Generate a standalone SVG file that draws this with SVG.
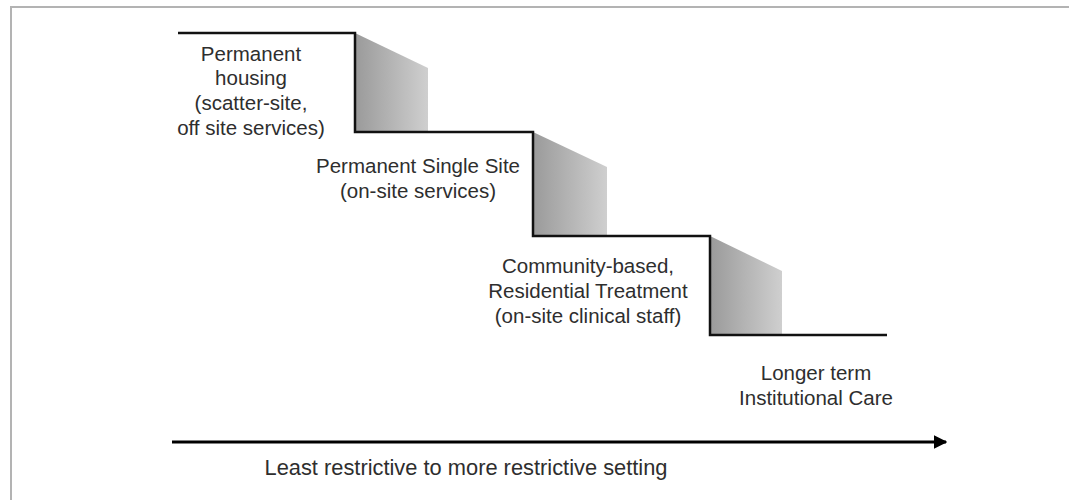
<svg xmlns="http://www.w3.org/2000/svg" width="1069" height="500" viewBox="0 0 1069 500">
  <defs>
    <linearGradient id="shade" x1="0" y1="0" x2="1" y2="0">
      <stop offset="0" stop-color="#9a9a9a"/>
      <stop offset="1" stop-color="#cfcfcf"/>
    </linearGradient>
    <marker id="arrow" viewBox="0 0 10 10" refX="9" refY="5" markerWidth="4.5" markerHeight="4.5" orient="auto" markerUnits="strokeWidth">
      <path d="M0,0 L10,5 L0,10 z" fill="#000"/>
    </marker>
  </defs>
  <style>
    .lbl { font-family: "Liberation Sans", Arial, sans-serif; font-size: 20.5px; fill: #2e2e2e; text-anchor: middle; }
    .axis { font-size: 21.5px; }
    .step { fill: none; stroke: #111; stroke-width: 2.5; }
    .shade { fill: url(#shade); stroke: none; }
  </style>
  <rect x="0" y="0" width="1069" height="500" fill="#fff"/>
  <path d="M11,500 L11,7 L1069,7" fill="none" stroke="#b3b3b3" stroke-width="2"/>

  <g id="shades">
    <polygon class="shade" points="355,33 428,68 428,132 355,132"/>
    <polygon class="shade" points="533,132 607,167 607,236 533,236"/>
    <polygon class="shade" points="710,236 782,271 782,335 710,335"/>
  </g>

  <g id="connectors">
    <path class="step" d="M178,33 L355,33 L355,132 L533,132 L533,236 L710,236 L710,335 L887,335"/>
    <line x1="172" y1="442" x2="946" y2="442" stroke="#000" stroke-width="3" marker-end="url(#arrow)"/>
  </g>

  <g id="node-permanent-housing">
    <text class="lbl" x="251" y="61">Permanent</text>
    <text class="lbl" x="251" y="85">housing</text>
    <text class="lbl" x="251" y="110">(scatter-site,</text>
    <text class="lbl" x="251" y="135">off site services)</text>
  </g>
  <g id="node-permanent-single-site">
    <text class="lbl" x="418" y="173">Permanent Single Site</text>
    <text class="lbl" x="418" y="198">(on-site services)</text>
  </g>
  <g id="node-community-based">
    <text class="lbl" x="588" y="273">Community-based,</text>
    <text class="lbl" x="588" y="298">Residential Treatment</text>
    <text class="lbl" x="588" y="323">(on-site clinical staff)</text>
  </g>
  <g id="node-longer-term">
    <text class="lbl" x="816" y="380">Longer term</text>
    <text class="lbl" x="816" y="405">Institutional Care</text>
  </g>
  <g id="axis-label">
    <text class="lbl axis" x="466" y="475" textLength="403" lengthAdjust="spacingAndGlyphs">Least restrictive to more restrictive setting</text>
  </g>
</svg>
